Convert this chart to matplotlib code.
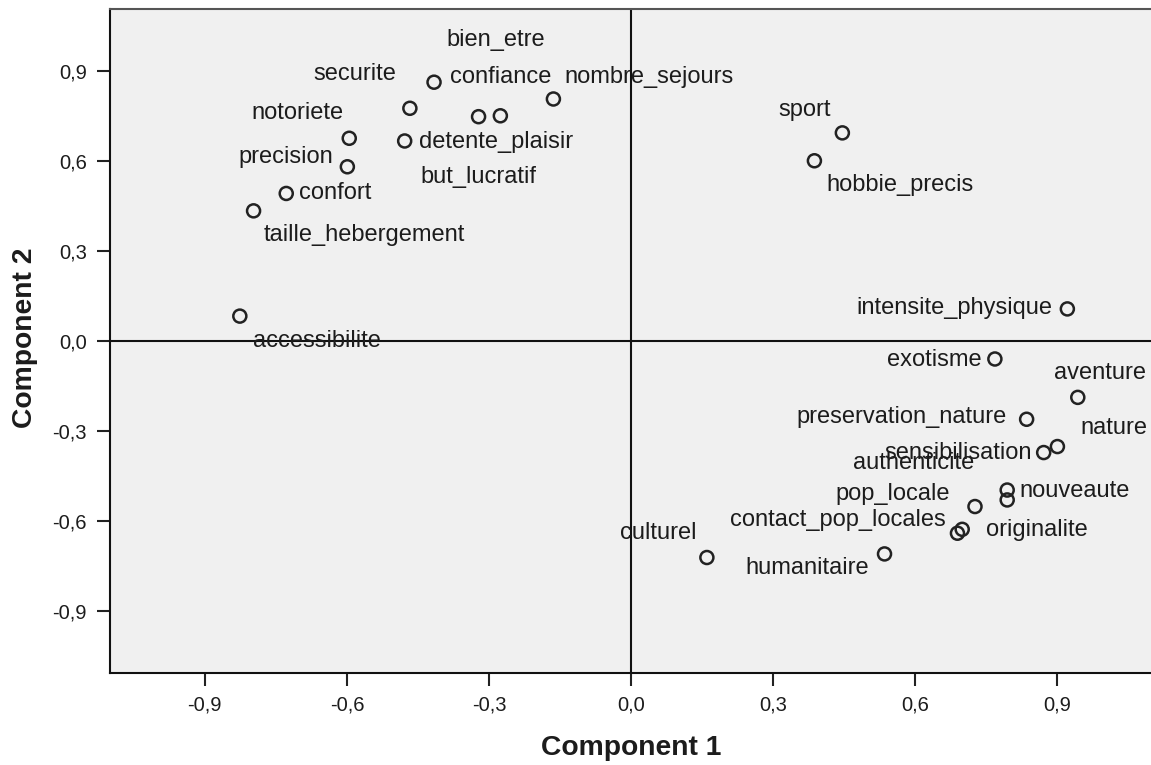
import matplotlib
matplotlib.use("Agg")
import matplotlib.pyplot as plt

# component loadings
variables = [
    "accessibilite", "taille_hebergement", "confort", "precision", "notoriete",
    "detente_plaisir", "securite", "confiance", "bien_etre", "but_lucratif",
    "nombre_sejours", "sport", "hobbie_precis", "intensite_physique", "exotisme",
    "aventure", "preservation_nature", "nature", "sensibilisation", "authenticite",
    "nouveaute", "pop_locale", "contact_pop_locales", "originalite", "humanitaire",
    "culturel",
]
comp1 = [
    -0.826, -0.797, -0.728, -0.599, -0.595,
    -0.478, -0.467, -0.416, -0.276, -0.322,
    -0.164, 0.446, 0.387, 0.921, 0.768,
    0.943, 0.835, 0.900, 0.871, 0.794,
    0.794, 0.726, 0.689, 0.699, 0.535,
    0.160,
]
comp2 = [
    0.083, 0.434, 0.492, 0.581, 0.676,
    0.667, 0.776, 0.863, 0.751, 0.748,
    0.807, 0.694, 0.601, 0.107, -0.060,
    -0.188, -0.261, -0.352, -0.372, -0.530,
    -0.497, -0.552, -0.641, -0.628, -0.710,
    -0.722,
]

tick_values = [-0.9, -0.6, -0.3, 0.0, 0.3, 0.6, 0.9]
tick_labels = ["-0,9", "-0,6", "-0,3", "0,0", "0,3", "0,6", "0,9"]

# where each label sits relative to its point: (dx px, dy px, ha)
label_place = {
    "accessibilite": (77, -25, "center"),
    "taille_hebergement": (10, -24, "left"),
    "confort": (13, 0, "left"),
    "precision": (-14, 10, "right"),
    "notoriete": (-52, 25, "center"),
    "detente_plaisir": (14, -1, "left"),
    "securite": (-55, 34, "center"),
    "confiance": (16, 5, "left"),
    "bien_etre": (-5, 76, "center"),
    "but_lucratif": (0, -60, "center"),
    "nombre_sejours": (11, 22, "left"),
    "sport": (-38, 23, "center"),
    "hobbie_precis": (12, -24, "left"),
    "intensite_physique": (-15, 1, "right"),
    "exotisme": (-13, -1, "right"),
    "aventure": (22, 24, "center"),
    "preservation_nature": (-20, 2, "right"),
    "nature": (57, 19, "center"),
    "sensibilisation": (-12, 0, "right"),
    "authenticite": (-94, 37, "center"),
    "nouveaute": (12, -1, "left"),
    "pop_locale": (-82, 13, "center"),
    "contact_pop_locales": (-12, 13, "right"),
    "originalite": (24, -1, "left"),
    "humanitaire": (-77, -14, "center"),
    "culturel": (-49, 25, "center"),
}

plt.rcParams["font.family"] = ["Liberation Sans", "DejaVu Sans"]
txt = "#1c1c1c"

fig = plt.figure(figsize=(11.51, 7.65), dpi=100)
ax = fig.add_axes([0.0956, 0.1203, 0.9054, 0.8679])
ax.set_facecolor("#f0f0f0")

ax.axhline(0, color="#111111", lw=1.5, zorder=1)
ax.axvline(0, color="#111111", lw=1.5, zorder=1)

ax.scatter(comp1, comp2, s=88, facecolors="none", edgecolors="#222222",
           linewidths=1.8, zorder=3)

for name, x, y in zip(variables, comp1, comp2):
    dx, dy, ha = label_place[name]
    ax.annotate(name, (x, y), xytext=(dx, dy), textcoords="offset pixels",
                ha=ha, va="center", fontsize=17, color=txt, zorder=4)

ax.set_xlim(-1.1, 1.1)
ax.set_ylim(-1.107, 1.107)
ax.set_xticks(tick_values)
ax.set_xticklabels(tick_labels)
ax.set_yticks(tick_values)
ax.set_yticklabels(tick_labels)
ax.tick_params(direction="out", length=9.5, width=1.5, color="#222222",
               labelsize=14.5, labelcolor=txt, pad=7)

for side in ["left", "bottom"]:
    ax.spines[side].set_color("#111111")
    ax.spines[side].set_linewidth(1.5)
ax.spines["top"].set_color("#555555")
ax.spines["top"].set_linewidth(1.5)
ax.spines["right"].set_visible(False)

fig.text(0.548, 1 - 748 / 765, "Component 1", ha="center", va="center",
         fontsize=20.3, fontweight="bold", color=txt)
fig.text(25 / 1151, 1 - 338 / 765, "Component 2", ha="center", va="center",
         rotation=90, fontsize=20.3, fontweight="bold", color=txt)

fig.savefig("out.png", dpi=100)
